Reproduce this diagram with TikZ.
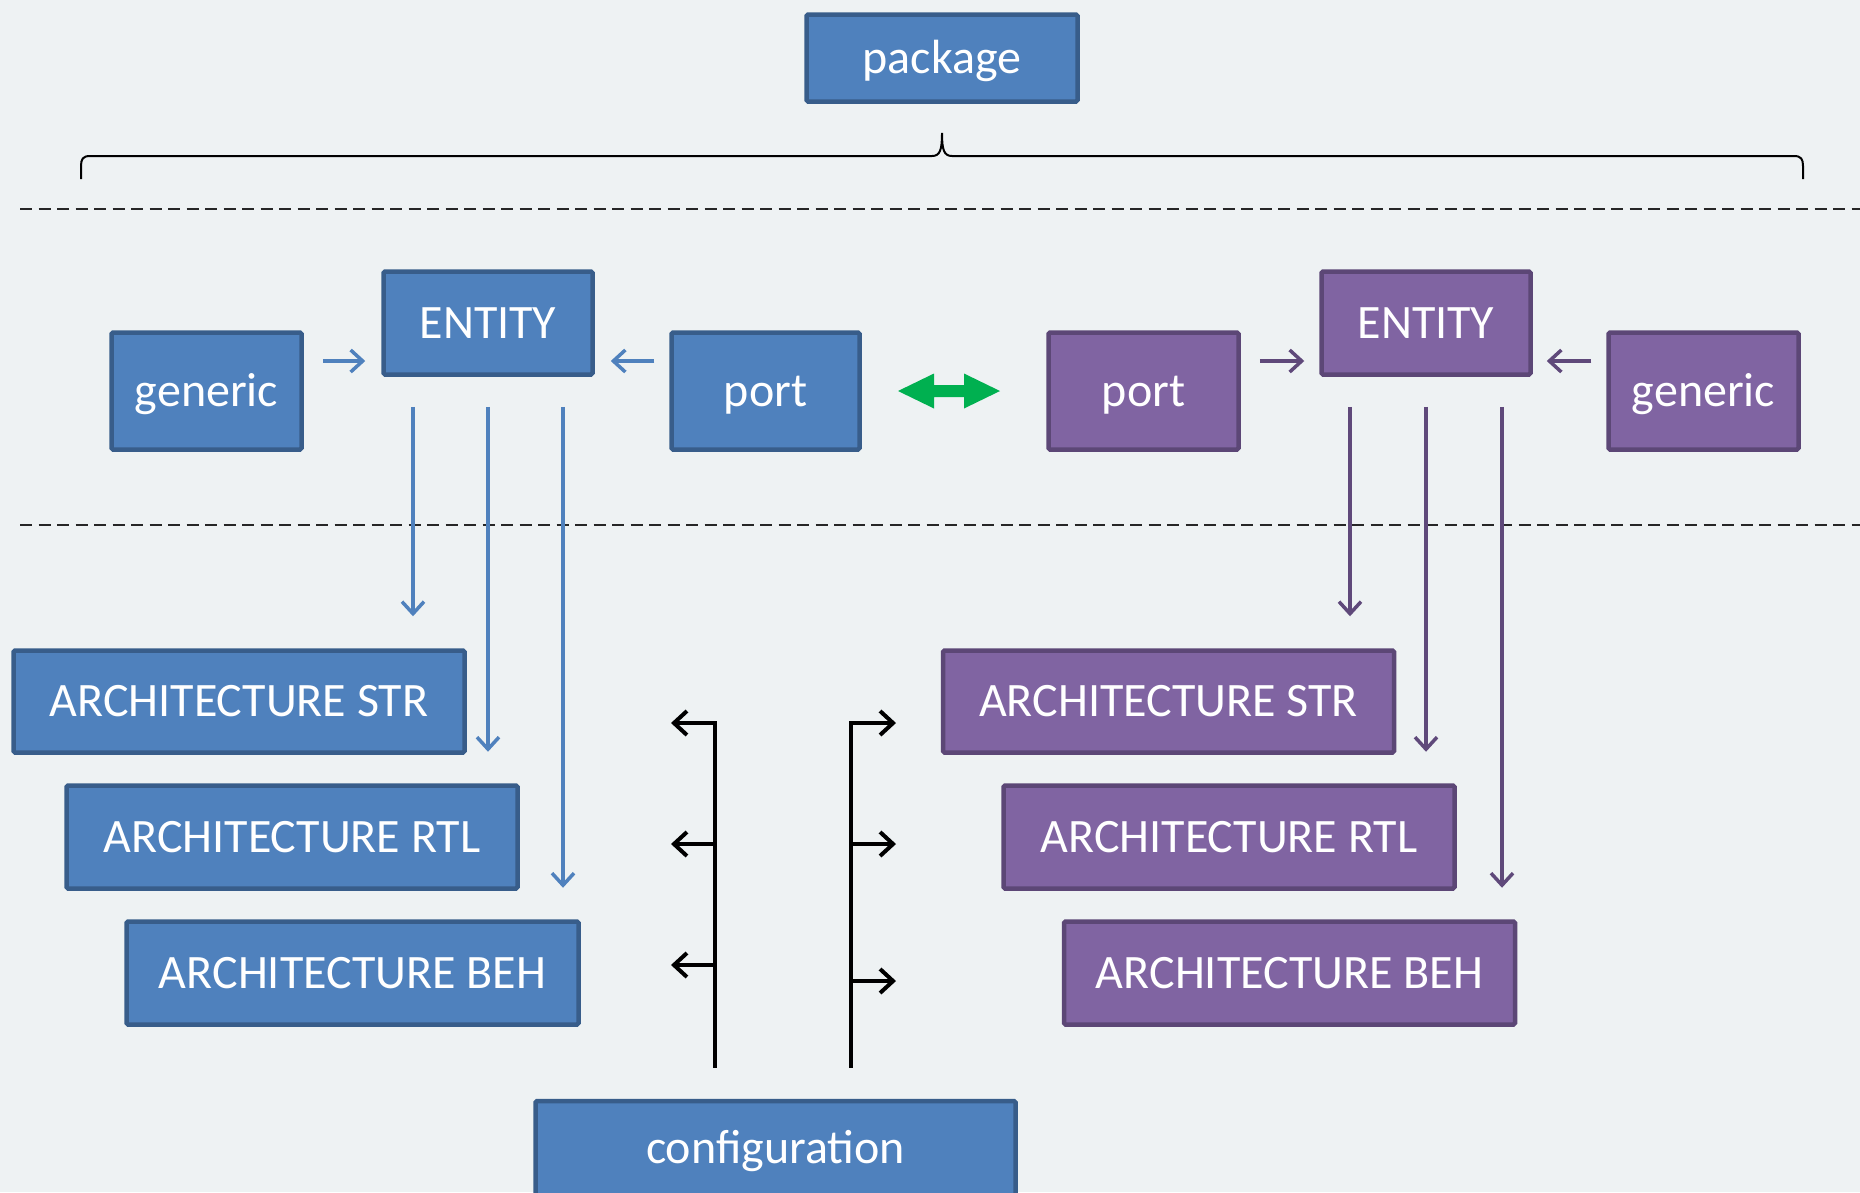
\documentclass[tikz,border=0pt]{standalone}
\usepackage{fontspec}
\setmainfont{Carlito}
\usetikzlibrary{arrows.meta,calc}
\definecolor{bg}{HTML}{EEF2F3}
\definecolor{bfill}{HTML}{4F81BD}
\definecolor{bdraw}{HTML}{385D8A}
\definecolor{pfill}{HTML}{8064A2}
\definecolor{pdraw}{HTML}{5C4776}
\definecolor{parrc}{HTML}{5F497A}
\definecolor{grn}{HTML}{00B050}
\begin{document}
\begin{tikzpicture}[x=1pt,y=-1pt,
  lbl/.style={text=white, font=\fontsize{48}{52}\selectfont, text height=30pt, text depth=0pt, inner sep=0pt},
  box/.style={lbl, rectangle, rounded corners=1.5pt, line width=4.5pt},
  bbox/.style={box, fill=bfill, draw=bdraw},
  pbox/.style={box, fill=pfill, draw=pdraw},
  barr/.style={draw=bfill, line width=3.5pt, -{Straight Barb[length=12pt,width=22pt]}},
  parr/.style={draw=parrc, line width=3.5pt, -{Straight Barb[length=12pt,width=22pt]}},
  karr/.style={draw=black, line width=4pt, -{Straight Barb[length=13pt,width=24pt]}},
  dline/.style={draw=black!85, line width=2pt, dash pattern=on 12pt off 6.5pt}
]
\fill[bg] (0,0) rectangle (1860,1192);
\clip (0,0) rectangle (1860,1192);

% top
\node[bbox, minimum width=271, minimum height=87] (pkg) at (942,58) {package};
\draw[line width=2pt] (81,179) -- (81,166) .. controls (81,159) and (83,156) .. (90,156)
  -- (932,156) .. controls (940,156) and (942,150) .. (942,133)
  .. controls (942,150) and (944,156) .. (952,156)
  -- (1794,156) .. controls (1801,156) and (1803,159) .. (1803,166) -- (1803,179);
\draw[dline] (20,209) -- (1860,209);
\draw[dline] (20,525) -- (1860,525);

% left entity group
\node[bbox, minimum width=190, minimum height=117] (genL) at (206.5,391) {generic};
\node[bbox, minimum width=209, minimum height=103] (entL) at (488,323) {ENTITY};
\node[bbox, minimum width=188, minimum height=117] (portL) at (765.5,391) {port};

% right entity group
\node[pbox, minimum width=190, minimum height=117] (portR) at (1143.5,391) {port};
\node[pbox, minimum width=209, minimum height=103] (entR) at (1426,323) {ENTITY};
\node[pbox, minimum width=190, minimum height=117] (genR) at (1703.5,391) {generic};

% architectures
\node[bbox, minimum width=451, minimum height=102] (strL) at (239,701.5) {ARCHITECTURE STR};
\node[bbox, minimum width=451, minimum height=103] (rtlL) at (292,837) {ARCHITECTURE RTL};
\node[bbox, minimum width=452, minimum height=103] (behL) at (352.5,973) {ARCHITECTURE BEH};
\node[pbox, minimum width=451, minimum height=102] (strR) at (1168.5,701.5) {ARCHITECTURE STR};
\node[pbox, minimum width=451, minimum height=103] (rtlR) at (1229,837) {ARCHITECTURE RTL};
\node[pbox, minimum width=451, minimum height=103] (behR) at (1289.5,973) {ARCHITECTURE BEH};

\node[bbox, minimum width=480, minimum height=110] (cfg) at (775.5,1156) {};
\node[lbl] (cfgtxt) at (775.5,1148) {configuration};

% small horizontal arrows
\coordinate (ya) at (0,361);
\draw[barr] ([xshift=19pt]genL.east |- ya) -- ([xshift=-16pt]entL.west |- ya);
\draw[barr] ([xshift=-15pt]portL.west |- ya) -- ([xshift=16pt]entL.east |- ya);
\draw[parr] ([xshift=19pt]portR.east |- ya) -- ([xshift=-15pt]entR.west |- ya);
\draw[parr] ([xshift=-15pt]genR.west |- ya) -- ([xshift=14pt]entR.east |- ya);

% green double arrow between ports
\fill[grn] (898,391) -- (934,373.5) -- (934,385) -- (964,385) -- (964,373.5) -- (1000,391)
  -- (964,408.5) -- (964,397) -- (934,397) -- (934,408.5) -- cycle;

% vertical arrows left
\draw[barr, shorten >=32pt] ([xshift=-75pt,yshift=-30pt]entL.south) -- ([xshift=-75pt]entL.south |- strL.north);
\draw[barr, shorten >=3pt] ([yshift=-30pt]entL.south) -- (entL.south |- strL.south);
\draw[barr, shorten >=3pt] ([xshift=75pt,yshift=-30pt]entL.south) -- ([xshift=75pt]entL.south |- rtlL.south);
% vertical arrows right
\draw[parr, shorten >=32pt] ([xshift=-76pt,yshift=-30pt]entR.south) -- ([xshift=-76pt]entR.south |- strR.north);
\draw[parr, shorten >=3pt] ([yshift=-30pt]entR.south) -- (entR.south |- strR.south);
\draw[parr, shorten >=3pt] ([xshift=76pt,yshift=-30pt]entR.south) -- ([xshift=76pt]entR.south |- rtlR.south);

% configuration arrows
\coordinate (cL) at ([xshift=-60.5pt,yshift=31pt]cfg.north);
\coordinate (cR) at ([xshift=75.5pt,yshift=31pt]cfg.north);
\draw[karr] (cL) -- (cL |- 0,723) -- (671,723);
\draw[karr] (cL |- 0,844) -- (671,844);
\draw[karr] (cL |- 0,965) -- (671,965);
\draw[karr] (cR) -- (cR |- 0,723) -- (896,723);
\draw[karr] (cR |- 0,844) -- (896,844);
\draw[karr] (cR |- 0,981) -- (896,981);
\end{tikzpicture}
\end{document}
